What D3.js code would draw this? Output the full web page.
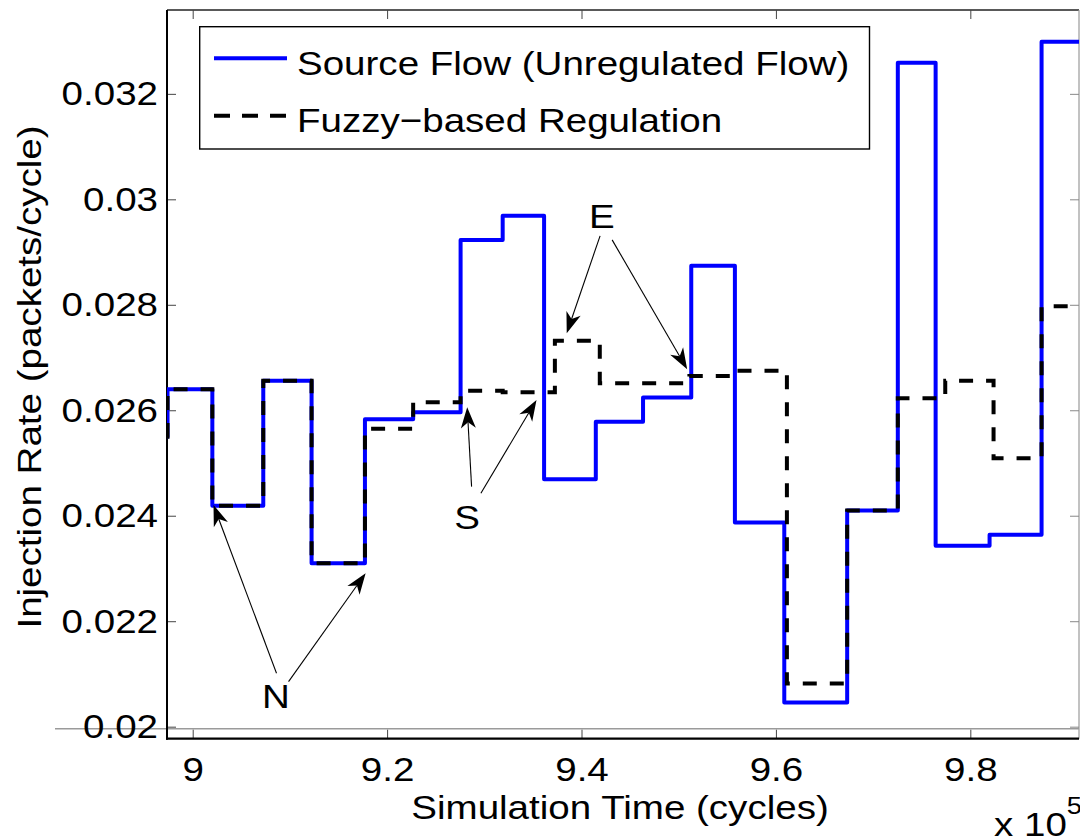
<!DOCTYPE html>
<html>
<head>
<meta charset="utf-8">
<script src="https://cdn.jsdelivr.net/npm/d3@7"></script>
<style>
  body { margin: 0; background: #fff; }
  svg text { font-family: "Liberation Sans", Arial, Helvetica, sans-serif; fill: #000; }
</style>
</head>
<body>
<div id="graphicContainer"></div>
<script>
// time in units of 1e5 cycles, rate in packets/cycle
var sourceTime = [8.9736, 8.9741, 9.0202, 9.0726, 9.1223, 9.1772, 9.2268, 9.2756, 9.3189, 9.3615,
                  9.4147, 9.4633, 9.5129, 9.5578, 9.6086, 9.6733, 9.7254, 9.7643, 9.8198, 9.8733]
var sourceRate = [0.02550, 0.02640, 0.02419, 0.02656, 0.02310, 0.02583, 0.02596, 0.02923, 0.02969, 0.02469,
                  0.02578, 0.02624, 0.02874, 0.02387, 0.02046, 0.02410, 0.03259, 0.02343, 0.02364, 0.03299]

var fuzzyTime = [8.9736, 8.9741, 9.0202, 9.0726, 9.1223, 9.1772, 9.2268, 9.2756, 9.3189, 9.3726,
                 9.4188, 9.5110, 9.5573, 9.6113, 9.6733, 9.7254, 9.7742, 9.8239, 9.8733]
var fuzzyRate = [0.02550, 0.02640, 0.02419, 0.02656, 0.02310, 0.02565, 0.02615, 0.02637, 0.02634, 0.02732,
                 0.02651, 0.02665, 0.02675, 0.02082, 0.02410, 0.02623, 0.02656, 0.02509, 0.02797]

var seriesNames = ["Source Flow (Unregulated Flow)", "Fuzzy\u2212based Regulation"]

var xTicks = [9, 9.2, 9.4, 9.6, 9.8]
var xTickLabels = ["9", "9.2", "9.4", "9.6", "9.8"]
var yTicks = [0.02, 0.022, 0.024, 0.026, 0.028, 0.03, 0.032]
var yTickLabels = ["0.02", "0.022", "0.024", "0.026", "0.028", "0.03", "0.032"]

// annotation letters (text anchor point) and their arrows
var noteLabels = ["N", "S", "E"]
var noteTime = [9.0857, 9.2824, 9.4209]
var noteRate = [0.020355, 0.02375, 0.029459]

var arrowTailTime = [9.0862, 9.0986, 9.2869, 9.2965, 9.4191, 9.4315]
var arrowTailRate = [0.021013, 0.020853, 0.024552, 0.024427, 0.029307, 0.029231]
var arrowTipTime  = [9.0214, 9.1779, 9.2824, 9.3537, 9.3848, 9.5087]
var arrowTipRate  = [0.024205, 0.022909, 0.026058, 0.026196, 0.027461, 0.026779]

var stray = 0.01996   // grey baseline showing through at the bottom

var width = 1080, height = 837
var sx = 1.14, fs = 33.8

var svg = d3.select("#graphicContainer").append("svg")
    .attr("width", width)
    .attr("height", height)

var pl = 167, pr = 1079, pt = 10, pb = 738.7

var x = d3.scaleLinear().domain([8.97356, 9.9118]).range([pl, pr])
var y = d3.scaleLinear().domain([0.019772, 0.03359]).range([pb, pt])

svg.append("clipPath").attr("id", "plotClip")
    .append("rect")
    .attr("x", pl).attr("y", pt)
    .attr("width", pr - pl).attr("height", pb - pt)

// stray grey line
svg.append("line")
    .attr("x1", 55).attr("x2", pr)
    .attr("y1", y(stray)).attr("y2", y(stray))
    .attr("stroke", "#9a9a9a")
    .attr("stroke-width", 1.6)

// frame
svg.append("line").attr("x1", pl).attr("x2", pr).attr("y1", pt).attr("y2", pt)
    .attr("stroke", "#222").attr("stroke-width", 1.5)
svg.append("line").attr("x1", pr).attr("x2", pr).attr("y1", pt).attr("y2", pb)
    .attr("stroke", "#999").attr("stroke-width", 1.2)

function styleAxis(g) {
    g.select(".domain").remove()
    g.attr("font-family", null).attr("font-size", fs)
    g.selectAll(".tick line").attr("stroke", "#444").attr("stroke-width", 1)
}

var xAxis = svg.append("g")
    .attr("transform", "translate(0," + pb + ")")
    .call(d3.axisBottom(x).tickValues(xTicks)
        .tickFormat(function(d, i) { return xTickLabels[i] })
        .tickSizeInner(-9).tickSizeOuter(0).tickPadding(18))
styleAxis(xAxis)
xAxis.selectAll("text").attr("transform", "scale(" + sx + ",1)")

var yAxis = svg.append("g")
    .attr("transform", "translate(" + pl + ",0)")
    .call(d3.axisLeft(y).tickValues(yTicks)
        .tickFormat(function(d, i) { return yTickLabels[i] })
        .tickSizeInner(-9).tickSizeOuter(0).tickPadding(9))
styleAxis(yAxis)
yAxis.selectAll("text").attr("x", -9 / sx).attr("transform", "scale(" + sx + ",1)")

var topAxis = svg.append("g")
    .attr("transform", "translate(0," + pt + ")")
    .call(d3.axisTop(x).tickValues(xTicks).tickFormat("").tickSizeInner(-9).tickSizeOuter(0))
styleAxis(topAxis)

var rightAxis = svg.append("g")
    .attr("transform", "translate(" + pr + ",0)")
    .call(d3.axisRight(y).tickValues(yTicks).tickFormat("").tickSizeInner(-9).tickSizeOuter(0))
styleAxis(rightAxis)
rightAxis.selectAll(".tick line").attr("stroke", "#888")

// axis lines on top of ticks
svg.append("line").attr("x1", pl).attr("x2", pl).attr("y1", pt).attr("y2", pb + 1)
    .attr("stroke", "#000").attr("stroke-width", 2)
svg.append("line").attr("x1", pl - 1).attr("x2", pr).attr("y1", pb).attr("y2", pb)
    .attr("stroke", "#000").attr("stroke-width", 2.2)

// axis titles
svg.append("text")
    .attr("text-anchor", "middle")
    .attr("font-size", fs)
    .attr("transform", "translate(620,819) scale(" + sx + ",1)")
    .text("Simulation Time (cycles)")

svg.append("text")
    .attr("text-anchor", "middle")
    .attr("font-size", fs)
    .attr("transform", "translate(41,377) rotate(-90) scale(" + sx + ",1)")
    .text("Injection Rate (packets/cycle)")

var expo = svg.append("text")
    .attr("font-size", fs)
    .attr("transform", "translate(994,836) scale(" + sx + ",1)")
expo.append("tspan").text("x 10")
expo.append("tspan").attr("font-size", 24).attr("dy", -22).text("5")

// series
function stepData(t, v) {
    var pts = t.map(function(d, i) { return [d, v[i]] })
    pts.push([x.domain()[1] + 0.01, v[v.length - 1]])
    return pts
}

var line = d3.line()
    .x(function(d) { return x(d[0]) })
    .y(function(d) { return y(d[1]) })
    .curve(d3.curveStepAfter)

var plot = svg.append("g").attr("clip-path", "url(#plotClip)")

plot.append("path")
    .datum(stepData(sourceTime, sourceRate))
    .attr("d", line)
    .attr("fill", "none")
    .attr("stroke", "#0000ff")
    .attr("stroke-width", 4)
    .attr("stroke-linejoin", "round")

plot.append("path")
    .datum(stepData(fuzzyTime, fuzzyRate))
    .attr("d", line)
    .attr("fill", "none")
    .attr("stroke", "#000")
    .attr("stroke-width", 4)
    .attr("stroke-dasharray", "14,13")

// annotations
var notes = svg.append("g")

noteLabels.forEach(function(d, i) {
    notes.append("text")
        .attr("text-anchor", "middle")
        .attr("font-size", fs)
        .attr("transform", "translate(" + x(noteTime[i]) + "," + y(noteRate[i]) + ") scale(" + sx + ",1)")
        .text(d)
})

arrowTipTime.forEach(function(d, i) {
    var x0 = x(arrowTailTime[i]), y0 = y(arrowTailRate[i])
    var x1 = x(d), y1 = y(arrowTipRate[i])
    var ang = Math.atan2(y1 - y0, x1 - x0)
    var len = 21, half = 7.5, notch = 6
    var ux = Math.cos(ang), uy = Math.sin(ang)
    var bx = x1 - ux * len, by = y1 - uy * len
    var nx = x1 - ux * (len - notch), ny = y1 - uy * (len - notch)

    notes.append("line")
        .attr("x1", x0).attr("y1", y0)
        .attr("x2", nx).attr("y2", ny)
        .attr("stroke", "#000")
        .attr("stroke-width", 1.1)

    notes.append("path")
        .attr("d", "M" + x1 + "," + y1 +
            "L" + (bx - uy * half) + "," + (by + ux * half) +
            "L" + nx + "," + ny +
            "L" + (bx + uy * half) + "," + (by - ux * half) + "Z")
        .attr("fill", "#000")
})

// legend
var legend = svg.append("g")

legend.append("rect")
    .attr("x", 199.7).attr("y", 26.7)
    .attr("width", 669.8).attr("height", 122.3)
    .attr("fill", "#fff")
    .attr("stroke", "#000")
    .attr("stroke-width", 1.4)

var legendY = [58.3, 115.7]
seriesNames.forEach(function(name, i) {
    legend.append("line")
        .attr("x1", 214).attr("x2", 287)
        .attr("y1", legendY[i]).attr("y2", legendY[i])
        .attr("stroke", i == 0 ? "#0000ff" : "#000")
        .attr("stroke-width", 4)
        .attr("stroke-dasharray", i == 0 ? null : "16,12")
    legend.append("text")
        .attr("font-size", fs)
        .attr("transform", "translate(297," + (legendY[i] + 16.5) + ") scale(" + sx + ",1)")
        .text(name)
})
</script>
</body>
</html>
